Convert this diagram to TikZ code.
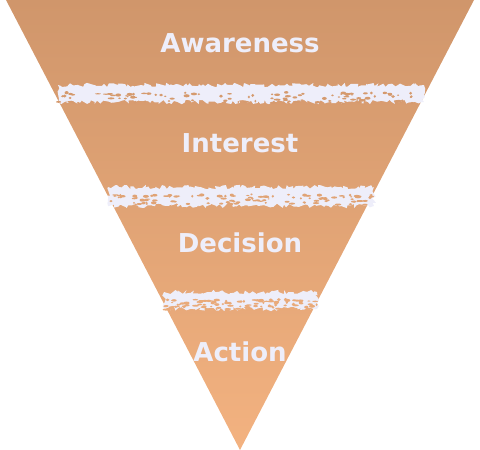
\documentclass[tikz,border=0pt]{standalone}
\usepackage{fontspec}
\setmainfont{DejaVu Sans}
\usetikzlibrary{decorations.pathmorphing}
\definecolor{ftop}{RGB}{208,150,107}
\definecolor{fbot}{RGB}{243,178,128}
\definecolor{bandc}{RGB}{238,238,250}
\tikzset{
  lab/.style={text=bandc, font=\bfseries\fontsize{26}{30}\selectfont, anchor=base, inner sep=0pt},
  rough/.style={fill=bandc, decorate, decoration={random steps, segment length=2.5pt, amplitude=2.2pt}}
}
\begin{document}
\begin{tikzpicture}[x=1pt,y=-1pt]
\pgfmathsetseed{4242}
\useasboundingbox (0,0) rectangle (480,450);
\shade[top color=ftop, bottom color=fbot] (6,0) -- (474,0) -- (240,450) -- cycle;
% rough bands
\fill[rough] (58,85) rectangle (424,102);
\fill[rough] (108,187) rectangle (374,206);
\fill[rough] (164,292) rectangle (317,309);
% speckle texture
\foreach \x/\w/\y/\c in {58/366/85/ftop!85!fbot, 108/266/187/ftop!55!fbot, 164/153/292/ftop!30!fbot}{
  \foreach \i in {1,...,70}{
    \pgfmathsetmacro\px{\x+rnd*\w}
    \pgfmathsetmacro\py{\y+7+rnd*rnd*11+rnd*2}
    \pgfmathsetmacro\rx{1.0+rnd*2.2}
    \pgfmathsetmacro\ry{0.6+rnd*1.0}
    \fill[\c] (\px,\py) ellipse [x radius=\rx, y radius=\ry];
  }
  \foreach \i in {1,...,40}{
    \pgfmathsetmacro\px{\x+rnd*\w}
    \pgfmathsetmacro\py{\y+13+rnd*5}
    \pgfmathsetmacro\rx{1.0+rnd*2.5}
    \fill[\c] (\px,\py) ellipse [x radius=\rx, y radius=1];
  }
}
\node[lab] (aw) at (240,52) {Awareness};
\node[lab] (in) at (240,152) {Interest};
\node[lab] (de) at (240,252) {Decision};
\node[lab] (ac) at (240,361) {Action};
\end{tikzpicture}
\end{document}
